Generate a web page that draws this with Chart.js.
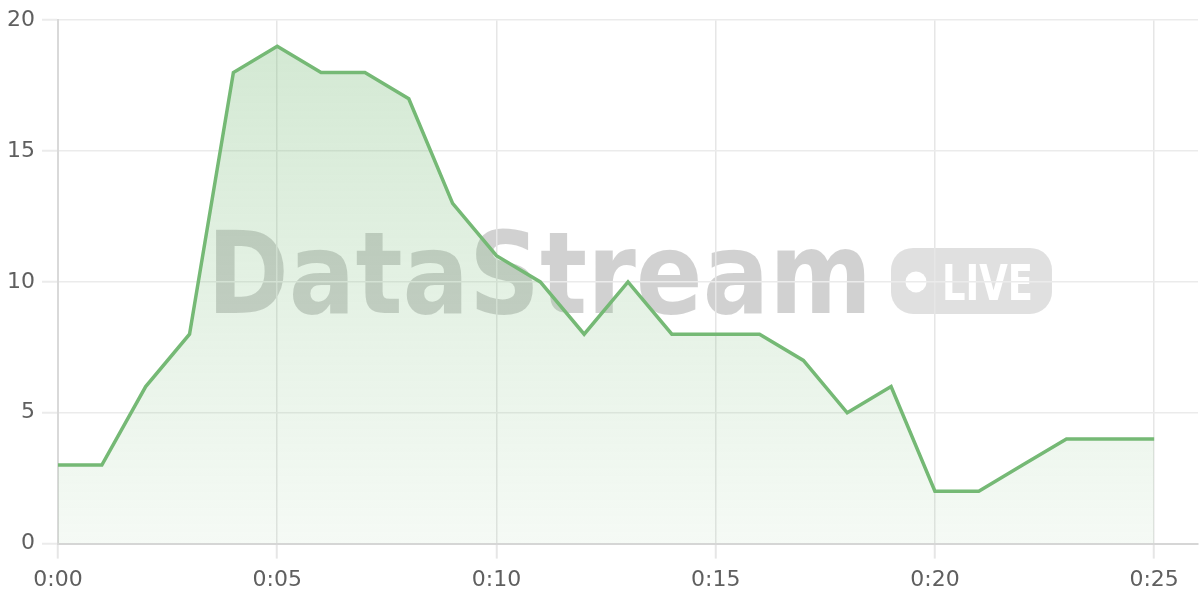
<!DOCTYPE html>
<html>
<head>
<meta charset="utf-8">
<script src="https://cdn.jsdelivr.net/npm/chart.js@4"></script>
<style>
  html, body { margin: 0; padding: 0; background: #fff; }
  #wrap { width: 1200px; height: 600px; }
</style>
</head>
<body>
<div id="wrap"><canvas id="viewersChart"></canvas></div>
<script>
// minutes since stream start, viewer count per minute
const minutes = [0, 1, 2, 3, 4, 5, 6, 7, 8, 9, 10, 11, 12, 13, 14, 15, 16, 17, 18, 19, 20, 21, 22, 23, 24, 25];
const viewers = [3, 3, 6, 8, 18, 19, 18, 18, 17, 13, 11, 10, 8, 10, 8, 8, 8, 7, 5, 6, 2, 2, 3, 4, 4, 4];
const yTicks = [0, 5, 10, 15, 20];
const xTicks = [0, 5, 10, 15, 20, 25];

const lineColor = '#75b975';
const tickFont = { family: 'DejaVu Sans', size: 22 };

function minuteLabel(v) {
    const h = Math.floor(v / 60);
    const m = v % 60;
    return h + ':' + (m < 10 ? '0' + m : m);
}

// soft green fill fading towards the x axis
function fillGradient(context) {
    const chart = context.chart;
    const area = chart.chartArea;
    if (!area) return 'rgba(117,185,117,0.2)';
    const g = chart.ctx.createLinearGradient(0, area.top, 0, area.bottom);
    g.addColorStop(0, 'rgba(117,185,117,0.33)');
    g.addColorStop(1, 'rgba(117,185,117,0.07)');
    return g;
}

// "DataStream LIVE" watermark behind the grid
const watermark = {
    id: 'watermark',
    beforeDraw(chart) {
        const ctx = chart.ctx;
        const area = chart.chartArea;
        const cx = (area.left + area.right) / 2;
        const cy = (area.top + area.bottom) / 2;

        ctx.save();
        ctx.fillStyle = 'rgba(0,0,0,0.18)';
        ctx.font = 'bold 114px "DejaVu Sans"';
        ctx.textBaseline = 'alphabetic';
        const w = ctx.measureText('DataStream').width;
        ctx.translate(cx - 421, cy + 31);
        ctx.scale(665 / w, 1);
        ctx.fillText('DataStream', 0, 0);
        ctx.restore();

        // badge
        ctx.save();
        const bx = cx + 263, by = cy - 34, bw = 161, bh = 66;
        ctx.fillStyle = 'rgba(0,0,0,0.12)';
        ctx.beginPath();
        ctx.roundRect(bx, by, bw, bh, 22);
        ctx.fill();
        ctx.fillStyle = '#fff';
        ctx.beginPath();
        ctx.arc(bx + 25, cy, 10.5, 0, Math.PI * 2);
        ctx.fill();
        ctx.font = 'bold 49px "DejaVu Sans"';
        const lw = ctx.measureText('LIVE').width;
        ctx.translate(bx + 51, cy + 18);
        ctx.scale(91 / lw, 1);
        ctx.fillText('LIVE', 0, 0);
        ctx.restore();
    }
};

const ctx = document.getElementById('viewersChart').getContext('2d');
new Chart(ctx, {
    type: 'line',
    data: {
        datasets: [{
            label: 'Viewers',
            data: minutes.map((m, i) => ({ x: m, y: viewers[i] })),
            borderColor: lineColor,
            borderWidth: 3.5,
            backgroundColor: fillGradient,
            fill: 'origin',
            tension: 0,
            pointRadius: 0,
            pointHoverRadius: 0
        }]
    },
    options: {
        responsive: true,
        maintainAspectRatio: false,
        animation: false,
        layout: { padding: { top: 8, right: 2, bottom: -1, left: 0 } },
        plugins: {
            legend: { display: false },
            tooltip: { enabled: false }
        },
        scales: {
            x: {
                type: 'linear',
                min: 0,
                max: 26,
                afterBuildTicks(scale) {
                    scale.ticks = xTicks.map(v => ({ value: v }));
                },
                grid: { color: '#e6e6e6', lineWidth: 1.5, tickLength: 15, tickColor: '#e6e6e6', tickWidth: 2 },
                border: { color: '#d6d6d6', width: 2 },
                ticks: {
                    color: '#5f5f5f',
                    font: tickFont,
                    padding: 8,
                    maxRotation: 0,
                    callback: v => minuteLabel(v)
                }
            },
            y: {
                min: 0,
                max: 20,
                afterBuildTicks(scale) {
                    scale.ticks = yTicks.map(v => ({ value: v }));
                },
                grid: { color: '#ebebeb', lineWidth: 1.5, tickLength: 16, tickColor: '#ebebeb', tickWidth: 2 },
                border: { color: '#d9d9d9', width: 2 },
                ticks: { color: '#5f5f5f', font: tickFont, padding: 7 }
            }
        }
    },
    plugins: [watermark]
});
</script>
</body>
</html>
